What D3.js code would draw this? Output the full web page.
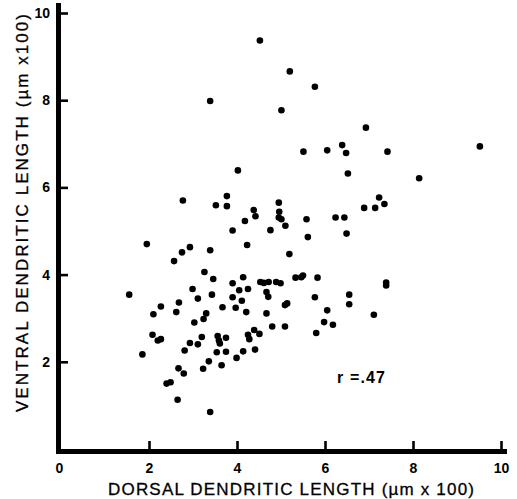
<!DOCTYPE html>
<html>
<head>
<meta charset="utf-8">
<script src="https://cdn.jsdelivr.net/npm/d3@7"></script>
<style>
  html, body { margin: 0; padding: 0; background: #fff; }
  svg { display: block; }
  text { font-family: "Liberation Sans", Arial, Helvetica, sans-serif; fill: #000; }
</style>
</head>
<body>
<svg id="chart" width="517" height="499"></svg>
<script>
// Dorsal dendritic length (µm x100) for each cell
const dorsal = [
  4.52, 5.20, 5.77, 3.39, 5.01, 6.93, 6.39, 5.51, 6.05, 6.48,
  7.42, 4.02, 6.52, 8.14, 9.52, 7.23, 7.35, 6.89, 7.14, 6.24,
  6.44, 6.49, 5.83, 7.39, 7.39, 5.77, 6.55, 6.55, 6.05, 7.11,
  5.98, 6.18, 3.77, 3.52, 3.77, 4.95, 4.38, 4.42, 4.96, 4.95,
  5.01, 4.18, 5.58, 5.10, 3.90, 4.76, 5.61, 4.23, 2.93, 3.39,
  5.19, 3.26, 3.46, 4.14, 4.53, 4.61, 4.72, 4.89, 4.99, 3.90,
  5.33, 5.46, 5.50, 2.99, 4.05, 4.25, 4.67, 4.71, 3.43, 3.90,
  4.11, 3.11, 5.09, 5.14, 3.67, 3.97, 4.21, 4.67, 3.30, 3.24,
  3.03, 4.80, 5.09, 5.80, 4.39, 4.51, 4.25, 4.28, 3.56, 3.59,
  3.61, 3.75, 3.20, 2.93, 3.11, 3.54, 3.75, 4.14, 4.41, 3.99,
  3.36, 3.23, 3.65, 3.39, 2.77, 1.95, 2.75, 2.57, 1.55, 2.27,
  2.68, 2.10, 2.62, 2.08, 2.20, 2.27, 2.81, 1.85, 2.67, 2.79,
  2.40, 2.49, 2.65
];
// Ventral dendritic length (µm x100) for the same cells
const ventral = [
  9.37, 8.66, 8.31, 7.98, 7.77, 7.37, 6.97, 6.82, 6.85, 6.79,
  6.82, 6.39, 6.32, 6.21, 6.94, 5.77, 5.62, 5.53, 5.53, 5.31,
  5.31, 4.94, 3.93, 3.82, 3.75, 3.48, 3.54, 3.32, 3.18, 3.08,
  2.91, 2.85, 5.80, 5.59, 5.57, 5.65, 5.48, 5.34, 5.44, 5.31,
  5.27, 5.23, 5.27, 5.12, 5.01, 5.02, 4.86, 4.68, 4.63, 4.56,
  4.47, 4.06, 3.90, 3.94, 3.83, 3.81, 3.83, 3.83, 3.80, 3.80,
  3.93, 3.94, 3.98, 3.67, 3.64, 3.67, 3.60, 3.49, 3.54, 3.48,
  3.40, 3.45, 3.30, 3.34, 3.25, 3.24, 3.14, 3.11, 3.11, 2.98,
  2.90, 2.81, 2.81, 2.66, 2.73, 2.64, 2.62, 2.52, 2.59, 2.49,
  2.42, 2.55, 2.57, 2.43, 2.40, 2.22, 2.23, 2.24, 2.28, 2.09,
  2.01, 1.84, 1.92, 0.85, 5.70, 4.70, 4.51, 4.31, 3.54, 3.27,
  3.36, 3.09, 3.14, 2.62, 2.49, 2.52, 2.26, 2.17, 1.85, 1.73,
  1.50, 1.53, 1.13
];
const xTicks = [0, 2, 4, 6, 8, 10];
const yTicks = [2, 4, 6, 8, 10];
const xTitle = "DORSAL DENDRITIC LENGTH (\u00b5m x 100)";
const yTitle = "VENTRAL DENDRITIC LENGTH (\u00b5m x100)";
const rLabel = "r =.47";

const svg = d3.select("#chart");
const x = d3.scaleLinear().domain([0, 10]).range([61, 501]);
const y = d3.scaleLinear().domain([0, 10]).range([449, 13]);

// X axis (ticks pointing up into the plot)
const gx = svg.append("g")
  .attr("transform", `translate(0,${y(0) + 2})`)
  .call(d3.axisBottom(x).tickValues(xTicks).tickSize(-10).tickSizeOuter(0).tickPadding(12).tickFormat(d3.format("d")));
gx.select(".domain").remove();
gx.selectAll(".tick line").attr("stroke", "#000").attr("stroke-width", 2.6)
  .filter(d => d === 0).remove();
gx.selectAll(".tick text").attr("font-size", 14).attr("font-weight", "bold")
  .attr("font-family", "Liberation Sans, Arial, sans-serif").attr("fill", "#000")
  .attr("dy", "0.71em")
  .attr("dx", d => d === 0 ? -2 : 0);

// Y axis (ticks pointing right into the plot)
const gy = svg.append("g")
  .attr("transform", `translate(${x(0) - 2},0)`)
  .call(d3.axisLeft(y).tickValues(yTicks).tickSize(-9).tickSizeOuter(0).tickPadding(9).tickFormat(d3.format("d")));
gy.select(".domain").remove();
gy.selectAll(".tick line").attr("stroke", "#000").attr("stroke-width", 2.6);
gy.selectAll(".tick text").attr("font-size", 14).attr("font-weight", "bold")
  .attr("font-family", "Liberation Sans, Arial, sans-serif").attr("fill", "#000");

// Thick axis lines
svg.append("line")
  .attr("x1", x(0) - 2.5).attr("x2", x(0) - 2.5)
  .attr("y1", y(10) - 10).attr("y2", y(0) + 5)
  .attr("stroke", "#000").attr("stroke-width", 5);
svg.append("line")
  .attr("x1", x(0) - 5).attr("x2", x(10) + 6)
  .attr("y1", y(0) + 2.5).attr("y2", y(0) + 2.5)
  .attr("stroke", "#000").attr("stroke-width", 5);

// Points
const pts = dorsal.map((d, i) => ({ d, v: ventral[i] }));
svg.append("g").selectAll("circle").data(pts).join("circle")
  .attr("cx", p => x(p.d))
  .attr("cy", p => y(p.v))
  .attr("r", 3.3)
  .attr("fill", "#000");

// Axis titles
svg.append("text")
  .attr("x", 108).attr("y", 495)
  .attr("font-size", 17)
  .attr("stroke", "#000").attr("stroke-width", 0.3)
  .attr("textLength", 366).attr("lengthAdjust", "spacing")
  .text(xTitle);

svg.append("text")
  .attr("transform", "translate(28,412) rotate(-90)")
  .attr("x", 0).attr("y", 0)
  .attr("font-size", 17)
  .attr("stroke", "#000").attr("stroke-width", 0.3)
  .attr("textLength", 398).attr("lengthAdjust", "spacing")
  .text(yTitle);

// Correlation label
svg.append("text")
  .attr("x", 337).attr("y", 383)
  .attr("font-size", 16).attr("font-weight", "bold")
  .attr("textLength", 48).attr("lengthAdjust", "spacing")
  .text(rLabel);
</script>
</body>
</html>
